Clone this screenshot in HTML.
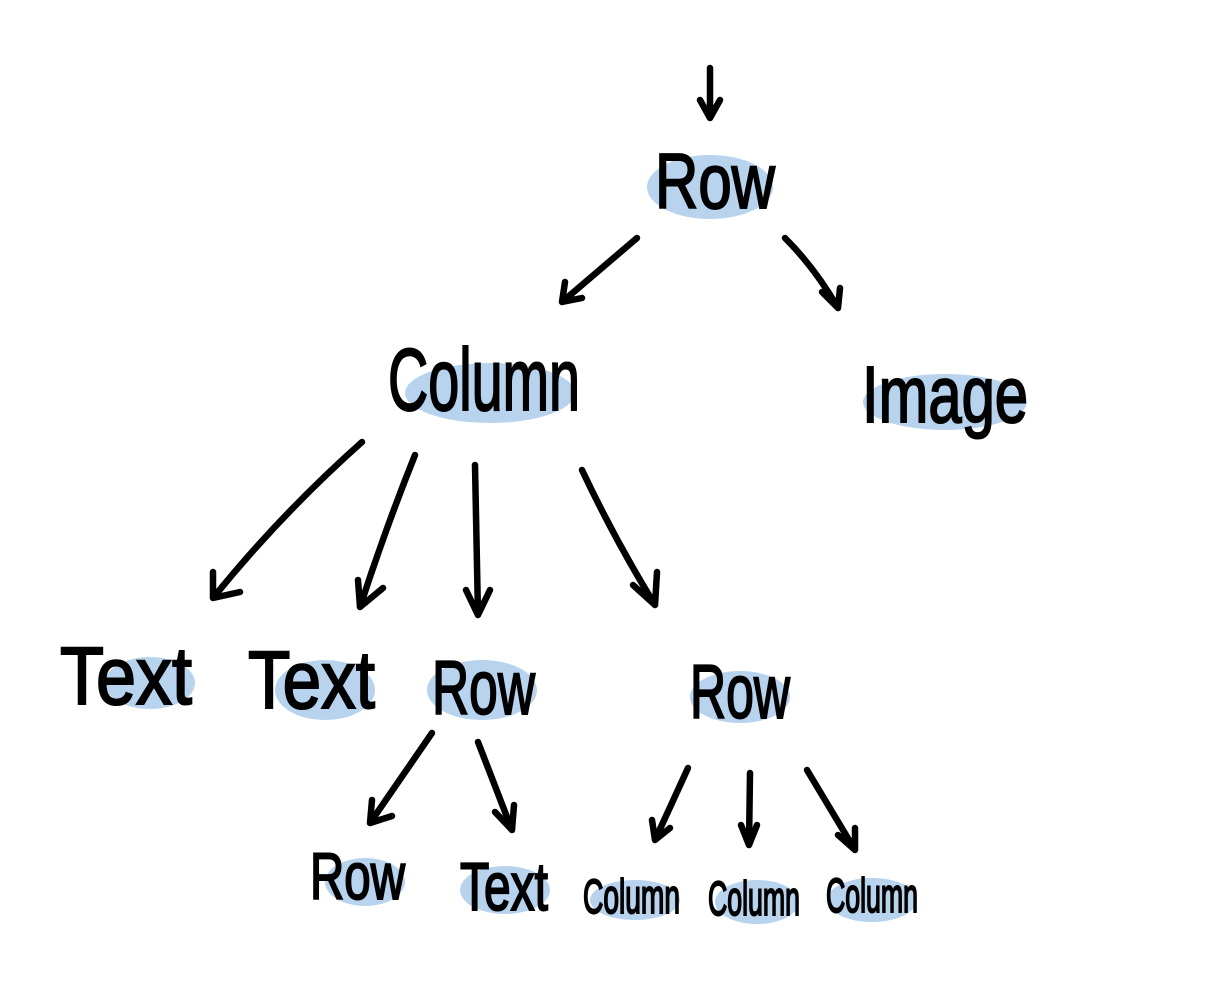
<!DOCTYPE html>
<html><head><meta charset="utf-8"><style>
html,body{margin:0;padding:0;background:#fff;}
svg{display:block;}
text{font-family:"Liberation Sans",sans-serif;fill:#000;stroke:#000;stroke-width:2;}
</style></head><body>
<svg width="1222" height="984" viewBox="0 0 1222 984" xmlns="http://www.w3.org/2000/svg">
<g fill="#b8d3ee">
<ellipse cx="710" cy="187" rx="63" ry="32"/>
<ellipse cx="490" cy="393" rx="85" ry="30"/>
<ellipse cx="945" cy="402" rx="82" ry="28"/>
<ellipse cx="150" cy="683" rx="45" ry="26"/>
<ellipse cx="325" cy="690" rx="50" ry="30"/>
<ellipse cx="482" cy="690" rx="55" ry="30"/>
<ellipse cx="740" cy="697" rx="50" ry="26"/>
<ellipse cx="365" cy="882" rx="40" ry="24"/>
<ellipse cx="505" cy="890" rx="45" ry="24"/>
<ellipse cx="635" cy="900" rx="45" ry="20"/>
<ellipse cx="757" cy="902" rx="42" ry="22"/>
<ellipse cx="872" cy="900" rx="45" ry="22"/>
</g>
<g stroke="#000" stroke-width="6.5" stroke-linecap="round" stroke-linejoin="round" fill="none">
<path d="M710 68 L710 118 M700 100 L710 118 L720 100"/>
<path d="M637 238 L562 302 M565 282 L562 302 L582 298"/>
<path d="M785 238 Q815 268 838 308 M822 292 L838 308 L840 288"/>
<path d="M362 442 Q280 515 213 598 M213 572 L213 598 L240 592"/>
<path d="M415 455 Q385 530 360 607 M358 580 L360 607 L383 588"/>
<path d="M475 465 L478 615 M466 590 L478 615 L490 590"/>
<path d="M582 470 Q615 540 655 605 M633 585 L655 605 L657 572"/>
<path d="M432 733 L370 823 M372 800 L370 823 L392 816"/>
<path d="M478 742 L512 830 M495 812 L512 830 L514 805"/>
<path d="M688 768 L655 840 M652 820 L655 840 L670 828"/>
<path d="M750 773 L749 845 M741 825 L749 845 L757 825"/>
<path d="M807 770 L855 850 M838 835 L855 850 L855 828"/>
</g>
<g>
<text x="655" y="208" font-size="78" textLength="120" lengthAdjust="spacingAndGlyphs">Row</text>
<text x="388" y="410" font-size="88" textLength="192" lengthAdjust="spacingAndGlyphs">Column</text>
<text x="862" y="422" font-size="80" textLength="166" lengthAdjust="spacingAndGlyphs">Image</text>
<text x="60" y="704" font-size="82" textLength="132" lengthAdjust="spacingAndGlyphs">Text</text>
<text x="248" y="708" font-size="82" textLength="127" lengthAdjust="spacingAndGlyphs">Text</text>
<text x="432" y="714" font-size="76" textLength="103" lengthAdjust="spacingAndGlyphs">Row</text>
<text x="690" y="718" font-size="76" textLength="100" lengthAdjust="spacingAndGlyphs">Row</text>
<text x="310" y="899" font-size="66" textLength="95" lengthAdjust="spacingAndGlyphs">Row</text>
<text x="460" y="910" font-size="68" textLength="88" lengthAdjust="spacingAndGlyphs">Text</text>
<text x="583" y="913" font-size="48" textLength="97" lengthAdjust="spacingAndGlyphs">Column</text>
<text x="708" y="915" font-size="48" textLength="92" lengthAdjust="spacingAndGlyphs">Column</text>
<text x="826" y="912" font-size="48" textLength="92" lengthAdjust="spacingAndGlyphs">Column</text>
</g>
</svg>
</body></html>
